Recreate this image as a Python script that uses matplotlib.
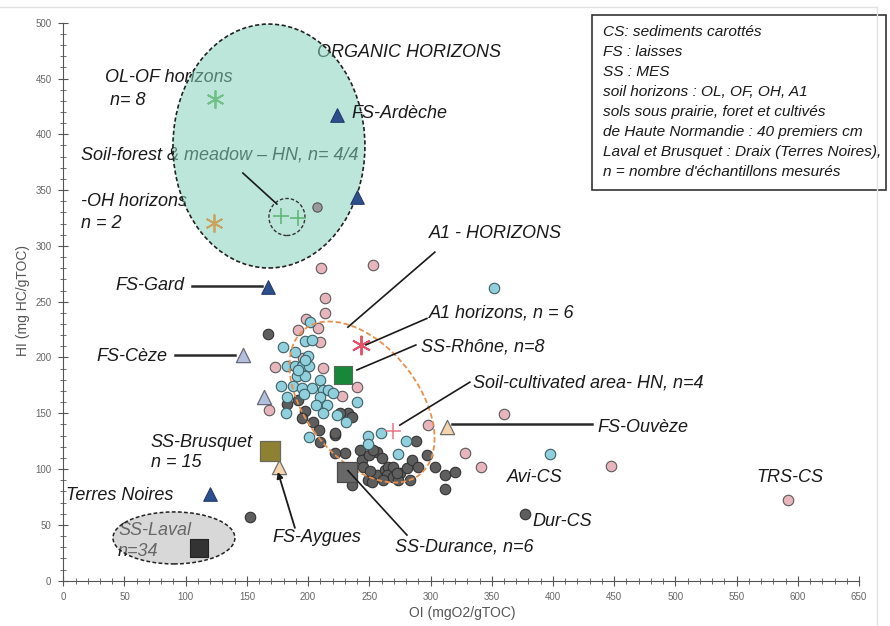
import matplotlib
matplotlib.use('Agg')
import matplotlib.pyplot as plt
from matplotlib.patches import Ellipse, Rectangle
from matplotlib.lines import Line2D
from matplotlib.ticker import MultipleLocator

plt.rcParams['font.family'] = ['Liberation Sans', 'DejaVu Sans']

# cored sediments / samples, (OI, HI)
pink_oi = [210.4, 252.9, 213.7, 213.7, 198.2, 208.0, 191.6, 209.6, 172.9, 212.1,
           195.8, 239.8, 227.6, 168.0, 297.8, 359.9, 328.0, 341.1, 447.2, 591.8]
pink_hi = [280.2, 282.9, 253.3, 239.9, 234.5, 226.4, 224.6, 213.9, 191.5, 190.6,
           199.6, 173.6, 165.5, 153.0, 139.5, 149.4, 114.4, 101.9, 102.7, 72.3]

blue_oi = [201.4, 197.4, 203.1, 179.4, 189.2, 199.8, 182.7, 189.2, 194.9, 200.6,
           190.8, 197.4, 177.8, 187.6, 194.9, 203.1, 209.6, 212.1, 216.2, 220.2,
           182.7, 209.6, 215.3, 206.3, 239.8, 181.9, 212.1, 223.5, 230.8, 196.6,
           200.6, 248.8, 259.4, 248.8, 279.8, 273.3, 351.7, 397.4, 197.6, 191.6]
blue_hi = [232.2, 215.2, 216.1, 209.8, 205.3, 201.7, 192.8, 192.8, 192.8, 192.8,
           183.8, 183.8, 174.8, 174.8, 173.1, 173.1, 179.8, 170.9, 170.9, 168.2,
           164.6, 164.6, 157.4, 157.4, 160.1, 150.3, 150.3, 148.5, 142.2, 167.3,
           128.8, 129.7, 132.3, 122.6, 125.3, 113.6, 262.3, 113.6, 197.4, 188.8]

dark_oi = [167.2, 182.7, 191.6, 197.4, 194.9, 203.9, 208.8, 209.6, 221.9, 232.5,
           235.7, 230.0, 221.9, 242.3, 243.9, 256.2, 260.2, 235.7, 248.8, 256.2,
           262.7, 249.6, 252.9, 244.7, 250.4, 252.0, 265.1, 269.2, 264.3, 269.2,
           274.9, 280.6, 284.7, 289.6, 288.0, 296.9, 303.5, 311.7, 319.8, 311.7,
           261.1, 283.1, 273.3, 272.5, 225.9, 221.9, 377.0, 152.4]
dark_hi = [221.1, 158.3, 161.9, 152.1, 145.8, 142.2, 135.1, 124.3, 130.6, 150.3,
           146.7, 114.4, 114.4, 117.1, 108.2, 115.3, 109.9, 85.9, 90.4, 94.8,
           99.3, 112.7, 117.1, 101.9, 98.3, 88.5, 101.9, 101.9, 94.8, 93.0,
           96.6, 101.1, 108.2, 101.9, 125.3, 112.7, 101.9, 94.8, 97.4, 82.3,
           90.4, 90.4, 90.4, 96.6, 150.3, 132.3, 59.7, 57.0]

# flood sediments (triangles)
fs_dark_oi = [223.5, 239.8, 167.2, 119.8]
fs_dark_hi = [417.3, 343.8, 263.2, 77.7]
fs_light_oi = [146.7, 163.9]
fs_light_hi = [202.3, 164.7]
fs_peach_oi = [313.3, 176.1]
fs_peach_hi = [137.7, 101.9]

# suspended sediments (squares)
ss_rhone = (228.4, 184.4)
ss_brusquet = (168.8, 116.2)
ss_durance = (231.7, 97.5)
ss_laval = (110.8, 29.3)

# soil horizons
ol_of = (123.9, 431.6)
oh = (123.1, 320.5)
forest_oi = [177.8, 191.6]
forest_hi = [326.7, 324.9]
a1 = (243.1, 211.3)
cultivated = (269.2, 134.1)
organic_grey = (207.2, 334.9)

legend_lines = ["CS: sediments carottés",
                "FS : laisses",
                "SS : MES",
                "soil horizons : OL, OF, OH, A1",
                "sols sous prairie, foret et cultivés",
                "de Haute Normandie : 40 premiers cm",
                "Laval et Brusquet : Draix (Terres Noires),",
                "n = nombre d'échantillons mesurés"]

fig = plt.figure(figsize=(8.9, 6.26), dpi=100)
ax = fig.add_axes([0.0711, 0.0724, 0.8941, 0.8913])
ax.set_xlim(0, 650)
ax.set_ylim(0, 500)
for s in ['top', 'right']:
    ax.spines[s].set_visible(False)
for s in ['left', 'bottom']:
    ax.spines[s].set_color('#555555')
ax.xaxis.set_major_locator(MultipleLocator(50))
ax.xaxis.set_minor_locator(MultipleLocator(10))
ax.yaxis.set_major_locator(MultipleLocator(50))
ax.yaxis.set_minor_locator(MultipleLocator(10))
ax.tick_params(which='major', direction='inout', length=7, width=0.8, color='#555555',
               labelsize=7, labelcolor='#666666')
ax.tick_params(which='minor', direction='inout', length=4, width=0.6, color='#555555')
ax.tick_params(axis='x', pad=5)
ax.tick_params(axis='y', pad=5)

fig.text(462 / 890, 1 - 613 / 626, 'OI (mgO2/gTOC)', ha='center', va='center',
         fontsize=10, color='#555555')
fig.text(23 / 890, 1 - 300 / 626, 'HI (mg HC/gTOC)', ha='center', va='center',
         rotation=90, fontsize=10, color='#555555')

# picture frame
fig.add_artist(Line2D([0, 877 / 890], [1 - 7 / 626, 1 - 7 / 626], color='#e2e2e2', lw=1))
fig.add_artist(Line2D([877 / 890, 877 / 890], [0, 1 - 7 / 626], color='#e2e2e2', lw=1))

lab = dict(fontsize=13, style='italic', color='#1a1a1a', va='center', ha='left')

# organic horizons group (ellipse drawn over its labels)
ax.text(34.1, 451.3, 'OL-OF horizons', zorder=1, **lab)
ax.text(38.1, 430.7, 'n= 8', zorder=1, **lab)
ax.text(14.5, 381.4, 'Soil-forest & meadow \u2013 HN, n= 4/4', zorder=1, **lab)
ax.text(14.5, 340.2, '-OH horizons', zorder=1, **lab)
ax.text(14.5, 320.5, 'n = 2', zorder=1, **lab)
ax.text(207.2, 473.7, 'ORGANIC HORIZONS', zorder=1, **lab)
ax.add_patch(Ellipse((168, 389.5), 156.8, 218.6, facecolor='#87d2bc', alpha=0.55,
                     edgecolor='none', zorder=2))
ax.add_patch(Ellipse((168, 389.5), 156.8, 218.6, facecolor='none', edgecolor='#222222',
                     ls=(0, (2.5, 1.5)), lw=1.2, zorder=2.1))
ax.add_patch(Ellipse((182.7, 325.9), 29.4, 33.2, facecolor='none', edgecolor='#333333',
                     ls=(0, (2.5, 1.5)), lw=1, zorder=2.1))

# SS-Laval group
ax.text(44.7, 45.4, 'SS-Laval', zorder=1, **lab)
ax.text(44.7, 25.7, 'n=34', zorder=1, **lab)
ax.add_patch(Ellipse((90.4, 38.3), 99.6, 46.6, facecolor='#b3b3b3', alpha=0.5,
                     edgecolor='none', zorder=2))
ax.add_patch(Ellipse((90.4, 38.3), 99.6, 46.6, facecolor='none', edgecolor='#222222',
                     ls=(0, (2.5, 1.5)), lw=1.1, zorder=2.1))

# sample clouds
ms = 57
ax.scatter(pink_oi, pink_hi, s=ms, c='#e9b5bd', edgecolors='#5a5a5a', linewidths=0.8, zorder=4)
ax.scatter(dark_oi, dark_hi, s=ms, c='#5e5e5e', edgecolors='#333333', linewidths=0.8, zorder=4)
ax.scatter(blue_oi, blue_hi, s=ms, c='#8fd0dc', edgecolors='#3e5f66', linewidths=0.8, zorder=4)
ax.scatter(*organic_grey, s=45, c='#9a9a9a', edgecolors='#555555', linewidths=0.8, zorder=4)

# A1 horizons ellipse
ax.add_patch(Ellipse((244, 160.1), 161, 94.6, angle=-56.8, facecolor='none',
                     edgecolor='#e8914f', ls=(0, (3, 1.5)), lw=1.3, zorder=5))

# triangles
ax.scatter(fs_dark_oi, fs_dark_hi, s=95, marker='^', c='#2d4f8e', edgecolors='#223a6a',
           linewidths=0.8, zorder=6)
ax.scatter(fs_light_oi, fs_light_hi, s=105, marker='^', c='#b3c0dd', edgecolors='#6a6a7a',
           linewidths=0.9, zorder=6)
ax.scatter(fs_peach_oi, fs_peach_hi, s=105, marker='^', c='#f6d4ab', edgecolors='#6e6e6e',
           linewidths=0.9, zorder=6)

# squares
ax.scatter(*ss_rhone, s=150, marker='s', c='#17883a', edgecolors='#4d6b55', linewidths=0.8, zorder=6)
ax.scatter(*ss_brusquet, s=190, marker='s', c='#8e8132', edgecolors='#6a6a5a', linewidths=0.9, zorder=6)
ax.scatter(*ss_durance, s=190, marker='s', c='#686868', edgecolors='#4a4a4a', linewidths=0.9, zorder=6)
ax.scatter(*ss_laval, s=150, marker='s', c='#333333', edgecolors='#222222', linewidths=0.8, zorder=6)

# soil markers
ax.plot(*ol_of, marker=(6, 2, 0), ms=13, color='#6fbf86', mew=1.3, ls='none', zorder=6)
ax.plot(*oh, marker=(6, 2, 0), ms=13, color='#c9a361', mew=1.3, ls='none', zorder=6)
ax.plot(forest_oi, forest_hi, marker='+', ms=11, color='#62b57b', mew=1.2, ls='none', zorder=6)
ax.plot(*a1, marker=(6, 2, 0), ms=14, color='#e5536a', mew=1.4, ls='none', zorder=6)
ax.plot(*cultivated, marker='+', ms=12, color='#e87488', mew=1.1, ls='none', zorder=6)

# leader lines
lc = dict(color='#1a1a1a', lw=1.2, zorder=7)
ax.plot([146.7, 174.5], [365.3, 337.5], **lc)
ax.plot([303.5, 232.5], [294.4, 227.2], **lc)
ax.plot([297.0, 247.2], [235.0, 211.3], **lc)
ax.plot([288.0, 239.8], [211.2, 188.8], **lc)
ax.plot([332.1, 274.9], [177.9, 139.4], **lc)
ax.plot([232.5, 280.7], [98.7, 40.9], **lc)
thick = dict(color='#2a2a2a', lw=1.8, zorder=5)
ax.plot([105.1, 162.3], [264.1, 264.1], **thick)
ax.plot([91.2, 140.2], [202.2, 202.2], **thick)
ax.plot([317.4, 431.7], [140.5, 140.5], **thick)
ax.annotate('', xy=(175.3, 97.5), xytext=(189.2, 47.3),
            arrowprops=dict(arrowstyle='-|>', color='#1a1a1a', lw=1.3,
                            mutation_scale=9, shrinkA=0, shrinkB=0), zorder=7)

# labels
ax.text(235.0, 419.0, 'FS-Ard\u00e8che', **lab)
ax.text(298.6, 311.2, 'A1 - HORIZONS', **lab)
ax.text(298.6, 239.9, 'A1 horizons, n = 6', **lab)
ax.text(292.1, 209.4, 'SS-Rh\u00f4ne, n=8', **lab)
ax.text(334.6, 177.2, 'Soil-cultivated area- HN, n=4', **lab)
ax.text(436.6, 137.7, 'FS-Ouv\u00e8ze', **lab)
ax.text(362.3, 92.9, 'Avi-CS', **lab)
ax.text(566.5, 92.9, 'TRS-CS', **lab)
ax.text(383.6, 52.6, 'Dur-CS', **lab)
ax.text(270.9, 30.2, 'SS-Durance, n=6', **lab)
ax.text(171.2, 38.3, 'FS-Aygues', **lab)
ax.text(2.2, 75.9, 'Terres Noires', **lab)
ax.text(71.6, 123.4, 'SS-Brusquet', **lab)
ax.text(71.6, 105.5, 'n = 15', **lab)
ax.text(42.2, 264.1, 'FS-Gard', **lab)
ax.text(26.7, 200.5, 'FS-C\u00e8ze', **lab)

# legend box
fig.add_artist(Rectangle((592 / 890, 1 - 190 / 626), 294 / 890, 175 / 626,
                         transform=fig.transFigure, facecolor='white',
                         edgecolor='#333333', lw=1.2))
for i, line in enumerate(legend_lines):
    fig.text(603 / 890, 1 - (32 + 20 * i) / 626, line, fontsize=11.1, style='italic',
             color='#1a1a1a', ha='left', va='center')

fig.savefig('out.png', dpi=100)
